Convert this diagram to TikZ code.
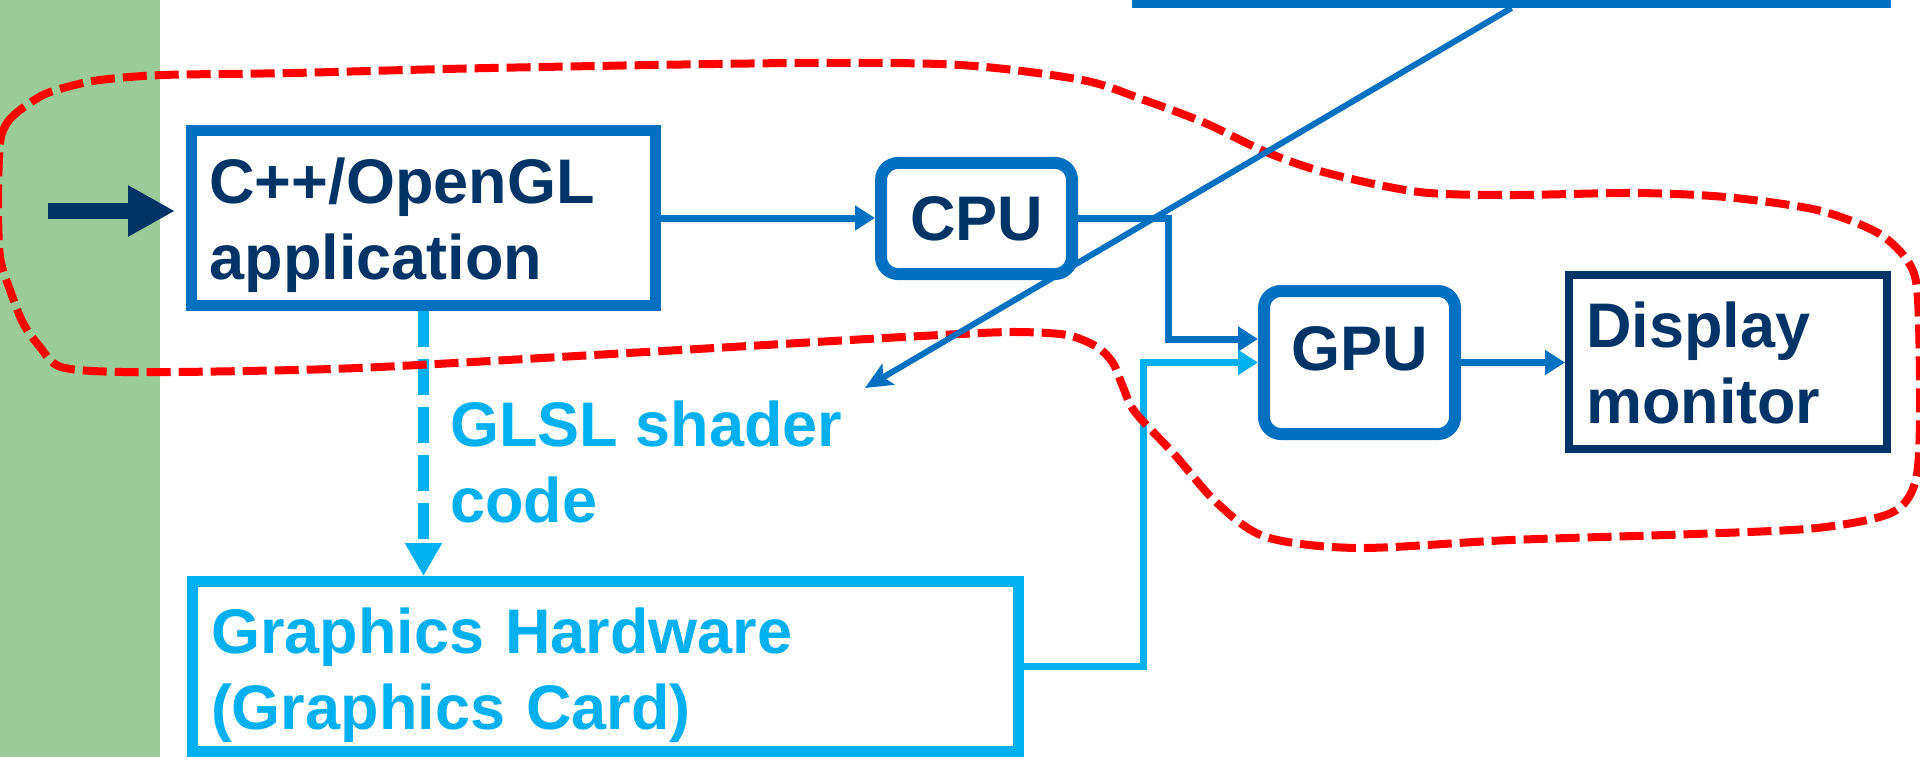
\documentclass[tikz,border=0pt]{standalone}
\usepackage{fontspec}
\setmainfont{Liberation Sans}
\usetikzlibrary{arrows.meta}
\definecolor{boxblue}{HTML}{0070C0}
\definecolor{navy}{HTML}{003366}
\definecolor{lightblue}{HTML}{00B0F0}
\definecolor{stripgreen}{HTML}{9ACB98}
\definecolor{loopred}{HTML}{FF0000}
\begin{document}
\begin{tikzpicture}[x=1pt,y=-1pt,
  every node/.style={font=\bfseries\fontsize{63}{76}\selectfont},
  box/.style={draw, rectangle, fill=white, align=left, text height=46pt, inner ysep=0pt},
  rbox/.style={draw=boxblue, line width=12pt, rounded corners=17pt, fill=white, text=navy,
    inner sep=0pt, text height=46pt, minimum width=191pt},
  conn/.style={draw=boxblue, line width=7pt, line join=miter},
  lconn/.style={draw=lightblue, line width=7pt, line join=miter},
  tip/.style={-{Triangle[width=24pt,length=20pt]}}
]
\useasboundingbox (0,0) rectangle (1920,757);
\clip (0,0) rectangle (1920,757);
% green strip
\fill[stripgreen] (0,0) rectangle (160,757);

% boxes
\node[box, draw=boxblue, line width=11pt, text=navy, minimum width=464pt, minimum height=175pt,
  inner xsep=18pt, text width=428pt, text depth=74pt] (app) at (423.5,218) {C++/OpenGL\\application};
\node[rbox, minimum height=111pt, text depth=3pt] (cpu) at (976.5,218.5) {CPU};
\node[rbox, minimum height=143pt, text depth=31pt] (gpu) at (1359.5,362.5) {GPU};
\node[box, draw=navy, line width=8pt, text=navy, minimum width=318pt, minimum height=174pt,
  inner xsep=17pt, text width=284pt, text depth=76pt] (display) at (1728,362) {Display\\monitor};
\node[box, draw=lightblue, line width=11pt, text=lightblue, minimum width=826pt, minimum height=170pt,
  inner xsep=18.5pt, text width=789pt, text depth=73pt] (gh) at (605.5,666.5) {Graphics Hardware\\(Graphics Card)};
\node[draw=boxblue, line width=9pt, fill=white, minimum width=750pt, minimum height=100pt, inner sep=0pt]
  (topbox) at (1511.5,-46.5) {};
\node[text=lightblue, anchor=base west, inner sep=0pt, align=left]
  (glsl) at (450,522) {GLSL shader\\code};

% input arrow
\coordinate (inStart) at (48,211);
\draw[navy, line width=16pt, -{Triangle[width=48pt,length=47pt]}, shorten >=11pt]
  (inStart) -- (inStart -| app.west);

% connectors
\draw[conn, tip] (app.east) -- (app.east -| cpu.west);
\draw[conn, tip] (cpu.east) -- ++(90,0) |- ([yshift=23.5pt]gpu.west);
\draw[conn, tip] (gpu.east) -- (gpu.east -| display.west);
\draw[lconn, tip] (gh.east) -- ++(119,0) |- (gpu.west);
\draw[lightblue, line width=11pt, dash pattern=on 36pt off 12pt, -{Triangle[width=35pt,length=33pt]}]
  (app.south) -- (app.south |- gh.north);

% red dashed loop
\draw[loopred, line width=8pt, dash pattern=on 24pt off 8pt]
  plot[smooth cycle, tension=0.5] coordinates {
  (0,143) (7,123) (20,110) (43,95) (67,87) (100,80) (163,75) (293,73) (490,68) (796,63)
  (960,65) (1082,80) (1144,100) (1205,123) (1266,152) (1327,173) (1419,192) (1511,195)
  (1634,193) (1725,197) (1817,210) (1878,233) (1909,263) (1918,300) (1920,420) (1915,483)
  (1891,513) (1817,528) (1695,534) (1511,540) (1358,548) (1266,537) (1217,503) (1175,455)
  (1135,412) (1123,387) (1113,363) (1097,347) (1067,335) (1017,332) (960,334) (850,340)
  (680,350) (380,367) (245,371) (122,372) (61,367) (40,347) (23,323) (10,290) (0,257) (-2,200)};

% diagonal arrow
\coordinate (diagEnd) at (865,388);
\draw[boxblue, line width=6pt, -{Stealth[width=24pt,length=27pt,inset=6pt]}] (topbox.south) -- (diagEnd);
\end{tikzpicture}
\end{document}
